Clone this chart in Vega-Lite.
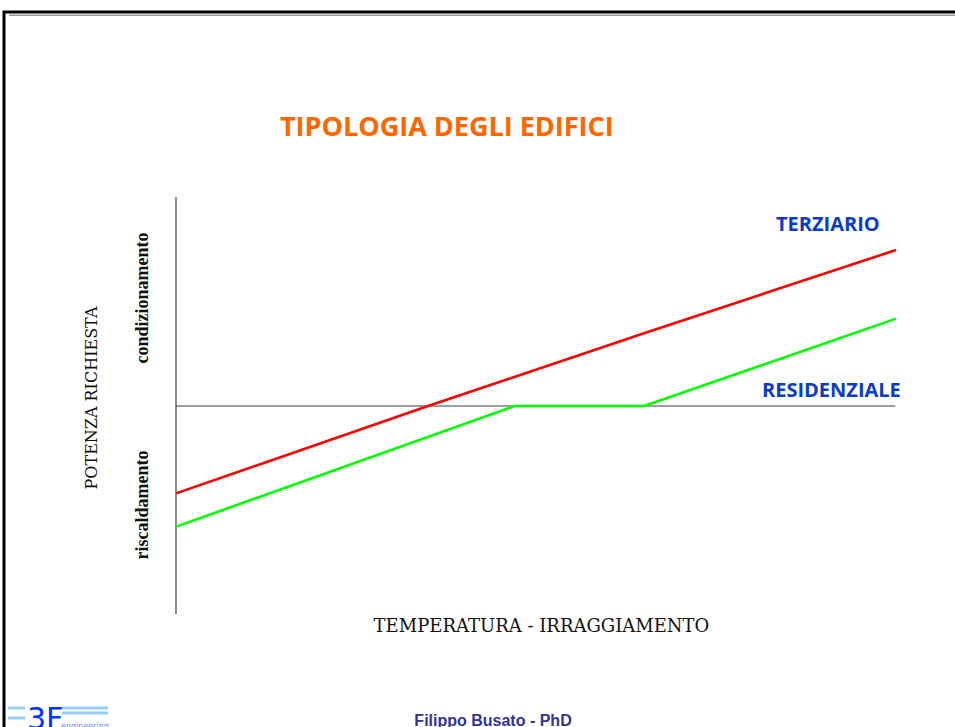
{
  "$schema": "https://vega.github.io/schema/vega-lite/v6.json",
  "width": 955,
  "height": 727,
  "autosize": {"type": "none"},
  "padding": 0,
  "background": "white",
  "config": {"view": {"stroke": null}},
  "datasets": {
    "lines": [
      {"series": "TERZIARIO", "t": 0, "p": -42},
      {"series": "TERZIARIO", "t": 15, "p": -24},
      {"series": "TERZIARIO", "t": 35, "p": 0},
      {"series": "TERZIARIO", "t": 65, "p": 35},
      {"series": "TERZIARIO", "t": 100, "p": 75},
      {"series": "RESIDENZIALE", "t": 0, "p": -58},
      {"series": "RESIDENZIALE", "t": 47, "p": 0},
      {"series": "RESIDENZIALE", "t": 65, "p": 0},
      {"series": "RESIDENZIALE", "t": 100, "p": 42}
    ],
    "logo": [
      {"a": -23.33, "b": -20.97, "v": -145.19},
      {"a": -23.33, "b": -20.97, "v": -150.0},
      {"a": -15.83, "b": -9.44, "v": -145.19},
      {"a": -15.83, "b": -9.44, "v": -147.6}
    ],
    "one": [{}]
  },
  "layer": [
    {
      "data": {"name": "one"},
      "mark": {"type": "rect", "filled": false, "stroke": "black", "strokeWidth": 3},
      "encoding": {
        "x": {"datum": -23.89, "scale": {"domain": [-24.444, 108.194], "nice": false, "zero": false}, "axis": null},
        "x2": {"datum": 120},
        "y": {"datum": 189.42, "scale": {"domain": [-154.33, 195.19], "nice": false, "zero": false}, "axis": null},
        "y2": {"datum": -200}
      }
    },
    {
      "data": {"name": "one"},
      "mark": {"type": "rule", "color": "#9a9a9a", "strokeWidth": 1.5},
      "encoding": {
        "x": {"datum": -23.2, "scale": {"domain": [-24.444, 108.194], "nice": false, "zero": false}, "axis": null},
        "x2": {"datum": 120},
        "y": {"datum": 187.9, "scale": {"domain": [-154.33, 195.19], "nice": false, "zero": false}, "axis": null}
      }
    },
    {
      "data": {"name": "one"},
      "mark": {"type": "rule", "color": "#404040", "strokeWidth": 1.2},
      "encoding": {
        "x": {"datum": 0, "scale": {"domain": [-24.444, 108.194], "nice": false, "zero": false}, "axis": null},
        "y": {"datum": -100, "scale": {"domain": [-154.33, 195.19], "nice": false, "zero": false}, "axis": null},
        "y2": {"datum": 100.5}
      }
    },
    {
      "data": {"name": "one"},
      "mark": {"type": "rule", "color": "#404040", "strokeWidth": 1.2},
      "encoding": {
        "x": {"datum": 0, "scale": {"domain": [-24.444, 108.194], "nice": false, "zero": false}, "axis": null},
        "x2": {"datum": 99.9},
        "y": {"datum": 0, "scale": {"domain": [-154.33, 195.19], "nice": false, "zero": false}, "axis": null}
      }
    },
    {
      "data": {"name": "lines"},
      "mark": {"type": "line", "strokeWidth": 2.6},
      "encoding": {
        "x": {"field": "t", "type": "quantitative", "scale": {"domain": [-24.444, 108.194], "nice": false, "zero": false}, "axis": null},
        "y": {"field": "p", "type": "quantitative", "scale": {"domain": [-154.33, 195.19], "nice": false, "zero": false}, "axis": null},
        "color": {"field": "series", "type": "nominal", "scale": {"domain": ["TERZIARIO", "RESIDENZIALE"], "range": ["#FF0000", "#00FF00"]}, "legend": null}
      }
    },
    {
      "data": {"name": "logo"},
      "mark": {"type": "rule", "color": "#99CCFF", "strokeWidth": 3},
      "encoding": {
        "x": {"field": "a", "type": "quantitative", "scale": {"domain": [-24.444, 108.194], "nice": false, "zero": false}, "axis": null},
        "x2": {"field": "b"},
        "y": {"field": "v", "type": "quantitative", "scale": {"domain": [-154.33, 195.19], "nice": false, "zero": false}, "axis": null}
      }
    },
    {
      "data": {"name": "one"},
      "mark": {"type": "text", "text": "3F", "font": "DejaVu Sans", "fontSize": 30, "color": "#0033FF", "align": "left", "baseline": "alphabetic"},
      "encoding": {
        "x": {"datum": -20.69, "scale": {"domain": [-24.444, 108.194], "nice": false, "zero": false}, "axis": null},
        "y": {"datum": -155.29, "scale": {"domain": [-154.33, 195.19], "nice": false, "zero": false}, "axis": null}
      }
    },
    {
      "data": {"name": "one"},
      "mark": {"type": "text", "text": "engineering", "font": "DejaVu Sans", "fontSize": 8, "color": "#6688FF", "align": "left", "baseline": "alphabetic"},
      "encoding": {
        "x": {"datum": -15.97, "scale": {"domain": [-24.444, 108.194], "nice": false, "zero": false}, "axis": null},
        "y": {"datum": -155.29, "scale": {"domain": [-154.33, 195.19], "nice": false, "zero": false}, "axis": null}
      }
    },
    {
      "data": {"name": "one"},
      "mark": {"type": "text", "text": "TIPOLOGIA DEGLI EDIFICI", "font": "Open Sans", "fontWeight": "bold", "fontSize": 27, "color": "#FF6600", "align": "left", "baseline": "alphabetic"},
      "encoding": {
        "x": {"datum": 14.44, "scale": {"domain": [-24.444, 108.194], "nice": false, "zero": false}, "axis": null},
        "y": {"datum": 129.81, "scale": {"domain": [-154.33, 195.19], "nice": false, "zero": false}, "axis": null}
      }
    },
    {
      "data": {"name": "one"},
      "mark": {"type": "text", "text": "TERZIARIO", "font": "Open Sans", "fontWeight": "bold", "fontSize": 20, "color": "#0B3CC6", "align": "left", "baseline": "alphabetic"},
      "encoding": {
        "x": {"datum": 83.33, "scale": {"domain": [-24.444, 108.194], "nice": false, "zero": false}, "axis": null},
        "y": {"datum": 84.13, "scale": {"domain": [-154.33, 195.19], "nice": false, "zero": false}, "axis": null}
      }
    },
    {
      "data": {"name": "one"},
      "mark": {"type": "text", "text": "RESIDENZIALE", "font": "Open Sans", "fontWeight": "bold", "fontSize": 20, "color": "#0B3CC6", "align": "left", "baseline": "alphabetic"},
      "encoding": {
        "x": {"datum": 81.39, "scale": {"domain": [-24.444, 108.194], "nice": false, "zero": false}, "axis": null},
        "y": {"datum": 4.33, "scale": {"domain": [-154.33, 195.19], "nice": false, "zero": false}, "axis": null}
      }
    },
    {
      "data": {"name": "one"},
      "mark": {"type": "text", "text": "POTENZA RICHIESTA", "font": "DejaVu Serif", "fontSize": 16, "color": "#111111", "align": "center", "baseline": "alphabetic", "angle": 270},
      "encoding": {
        "x": {"datum": -10.97, "scale": {"domain": [-24.444, 108.194], "nice": false, "zero": false}, "axis": null},
        "y": {"datum": 3.85, "scale": {"domain": [-154.33, 195.19], "nice": false, "zero": false}, "axis": null}
      }
    },
    {
      "data": {"name": "one"},
      "mark": {"type": "text", "text": "condizionamento", "font": "Liberation Serif", "fontWeight": "bold", "fontSize": 18, "color": "#111111", "align": "center", "baseline": "alphabetic", "angle": 270},
      "encoding": {
        "x": {"datum": -3.82, "scale": {"domain": [-24.444, 108.194], "nice": false, "zero": false}, "axis": null},
        "y": {"datum": 51.92, "scale": {"domain": [-154.33, 195.19], "nice": false, "zero": false}, "axis": null}
      }
    },
    {
      "data": {"name": "one"},
      "mark": {"type": "text", "text": "riscaldamento", "font": "Liberation Serif", "fontWeight": "bold", "fontSize": 18, "color": "#111111", "align": "center", "baseline": "alphabetic", "angle": 270},
      "encoding": {
        "x": {"datum": -3.82, "scale": {"domain": [-24.444, 108.194], "nice": false, "zero": false}, "axis": null},
        "y": {"datum": -47.6, "scale": {"domain": [-154.33, 195.19], "nice": false, "zero": false}, "axis": null}
      }
    },
    {
      "data": {"name": "one"},
      "mark": {"type": "text", "text": "TEMPERATURA - IRRAGGIAMENTO", "font": "DejaVu Serif", "fontSize": 18, "color": "#111111", "align": "center", "baseline": "alphabetic"},
      "encoding": {
        "x": {"datum": 50.76, "scale": {"domain": [-24.444, 108.194], "nice": false, "zero": false}, "axis": null},
        "y": {"datum": -108.6, "scale": {"domain": [-154.33, 195.19], "nice": false, "zero": false}, "axis": null}
      }
    },
    {
      "data": {"name": "one"},
      "mark": {"type": "text", "text": "Filippo Busato - PhD", "font": "Liberation Sans", "fontWeight": "bold", "fontSize": 16, "color": "#333399", "align": "center", "baseline": "alphabetic"},
      "encoding": {
        "x": {"datum": 44.03, "scale": {"domain": [-24.444, 108.194], "nice": false, "zero": false}, "axis": null},
        "y": {"datum": -153.85, "scale": {"domain": [-154.33, 195.19], "nice": false, "zero": false}, "axis": null}
      }
    }
  ]
}
